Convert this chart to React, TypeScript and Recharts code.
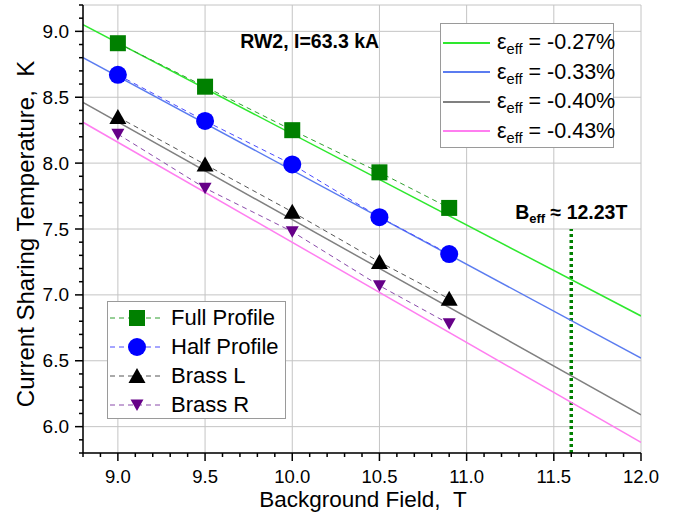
import React from 'react';
import { ComposedChart, Line, XAxis, YAxis, CartesianGrid, ReferenceLine, ReferenceDot } from 'recharts';

const FONT = '"Liberation Sans", Arial, sans-serif';

// measured points (background field in T, current sharing temperature in K)
const fieldT = [9.0, 9.5, 10.0, 10.5, 10.9];
const fullProfile = [8.91, 8.58, 8.25, 7.93, 7.66];
const halfProfile = [8.67, 8.32, 7.99, 7.59, 7.31];
const brassL = [8.35, 7.99, 7.63, 7.25, 6.97];
const brassR = [8.22, 7.81, 7.48, 7.07, 6.78];

// fitted lines, evaluated at the two ends of the field range
const fitField = [8.8, 12.0];
const fitStrain = ['-0.27%', '-0.33%', '-0.40%', '-0.43%'];
const fitAtLow = [9.05, 8.80, 8.46, 8.31];
const fitAtHigh = [6.84, 6.52, 6.09, 5.88];
const fitColors = ['#2ee82e', '#5b7cf0', '#808080', '#ff7ef0'];

const xMajor = [9.0, 9.5, 10.0, 10.5, 11.0, 11.5, 12.0];
const yMajor = [6.0, 6.5, 7.0, 7.5, 8.0, 8.5, 9.0];
const xAll = Array.from({ length: 33 }, (_, i) => +(8.8 + i * 0.1).toFixed(1));
const yAll = Array.from({ length: 35 }, (_, i) => +(5.8 + i * 0.1).toFixed(1));

const bEff = 11.6;
const bEffTop = 7.5;

type Kind = 'square' | 'circle' | 'up' | 'down';

const series: { name: string; values: number[]; kind: Kind; fill: string; line: string }[] = [
  { name: 'Full Profile', values: fullProfile, kind: 'square', fill: '#008000', line: '#2f9f2f' },
  { name: 'Half Profile', values: halfProfile, kind: 'circle', fill: '#0000ff', line: '#4b4bff' },
  { name: 'Brass L', values: brassL, kind: 'up', fill: '#000000', line: '#555555' },
  { name: 'Brass R', values: brassR, kind: 'down', fill: '#660088', line: '#8a4aaa' },
];

const isMajor = (v: number) => Math.abs(v * 2 - Math.round(v * 2)) < 1e-6;

function Marker({ kind, cx, cy, fill }: { kind: Kind; cx: number; cy: number; fill: string }) {
  if (kind === 'square') return <rect x={cx - 8} y={cy - 8} width={16} height={16} fill={fill} />;
  if (kind === 'circle') return <circle cx={cx} cy={cy} r={9} fill={fill} />;
  if (kind === 'up') return <polygon points={`${cx - 8.5},${cy + 7} ${cx + 8.5},${cy + 7} ${cx},${cy - 8}`} fill={fill} />;
  return <polygon points={`${cx - 6.5},${cy - 5.5} ${cx + 6.5},${cy - 5.5} ${cx},${cy + 6}`} fill={fill} />;
}

const BottomTick = (p: any) => {
  const v = p.payload.value;
  const major = isMajor(v);
  return (
    <g>
      <line x1={p.x} x2={p.x} y1={p.y} y2={p.y + (major ? 8 : 4)} stroke="#000" strokeWidth={1.5} />
      {major && (
        <text x={p.x} y={p.y + 23} textAnchor="middle" dominantBaseline="central" fontSize={18.5} fontFamily={FONT} fill="#000">
          {v.toFixed(1)}
        </text>
      )}
    </g>
  );
};

const LeftTick = (p: any) => {
  const v = p.payload.value;
  const major = isMajor(v);
  return (
    <g>
      <line x1={p.x} x2={p.x - (major ? 8 : 4)} y1={p.y} y2={p.y} stroke="#000" strokeWidth={1.5} />
      {major && (
        <text x={p.x - 14} y={p.y} textAnchor="end" dominantBaseline="central" fontSize={19} fontFamily={FONT} fill="#000">
          {v.toFixed(1)}
        </text>
      )}
    </g>
  );
};

const TopTick = (p: any) => (
  <line x1={p.x} x2={p.x} y1={p.y} y2={p.y + (isMajor(p.payload.value) ? 8 : 4)} stroke="#000" strokeWidth={1.5} />
);

const RightTick = (p: any) => (
  <line x1={p.x} x2={p.x - (isMajor(p.payload.value) ? 8 : 4)} y1={p.y} y2={p.y} stroke="#000" strokeWidth={1.5} />
);

const Sub = ({ children }: { children: React.ReactNode }) => (
  <span style={{ fontSize: '0.68em', position: 'relative', top: '0.35em' }}>{children}</span>
);

export default function App() {
  const fits = fitStrain.map((s, i) => ({
    name: s,
    color: fitColors[i],
    data: [
      { x: fitField[0], y: fitAtLow[i] },
      { x: fitField[1], y: fitAtHigh[i] },
    ],
  }));

  return (
    <div style={{ position: 'absolute', left: 0, top: 0, width: 678, height: 516, background: '#fff', fontFamily: FONT }}>
      <ComposedChart width={678} height={516} margin={{ top: 5, right: 37, bottom: 0, left: 0 }}>
        <XAxis xAxisId="grid" type="number" dataKey="x" domain={[8.8, 12]} ticks={xMajor} hide allowDataOverflow />
        <YAxis yAxisId="grid" type="number" domain={[5.8, 9.2]} ticks={yMajor} hide allowDataOverflow />
        <CartesianGrid xAxisId="grid" yAxisId="grid" stroke="#c4c4c4" strokeWidth={1} />

        <XAxis
          type="number"
          dataKey="x"
          domain={[8.8, 12]}
          ticks={xAll}
          interval={0}
          height={63}
          allowDataOverflow
          tickSize={0}
          tickMargin={0}
          tick={BottomTick}
          axisLine={{ stroke: '#000', strokeWidth: 1.5 }}
          label={{
            content: (lp: any) => (
              <text x={lp.viewBox.x + lp.viewBox.width / 2 + 1} y={lp.viewBox.y + 54} textAnchor="middle" fontSize={22.5} fontFamily={FONT} fill="#000">
                Background Field,{'\u00a0\u00a0'}T
              </text>
            ),
          }}
        />
        <YAxis
          type="number"
          domain={[5.8, 9.2]}
          ticks={yAll}
          interval={0}
          width={83}
          allowDataOverflow
          tickSize={0}
          tickMargin={0}
          tick={LeftTick}
          axisLine={{ stroke: '#000', strokeWidth: 1.5 }}
          label={{
            content: (lp: any) => {
              const cx = lp.viewBox.x + 25;
              const cy = lp.viewBox.y + lp.viewBox.height / 2 + 5;
              return (
                <text x={cx} y={cy} transform={`rotate(-90 ${cx} ${cy})`} textAnchor="middle" dominantBaseline="central" fontSize={24} fontFamily={FONT} fill="#000">
                  Current Sharing Temperature,{'\u00a0\u00a0'}K
                </text>
              );
            },
          }}
        />
        <XAxis
          xAxisId="top"
          orientation="top"
          type="number"
          dataKey="x"
          domain={[8.8, 12]}
          ticks={xAll}
          interval={0}
          height={0}
          allowDataOverflow
          tickSize={0}
          tickMargin={0}
          tick={TopTick}
          axisLine={{ stroke: '#000', strokeWidth: 1.5 }}
        />
        <YAxis
          yAxisId="right"
          orientation="right"
          type="number"
          domain={[5.8, 9.2]}
          ticks={yAll}
          interval={0}
          width={0}
          allowDataOverflow
          tickSize={0}
          tickMargin={0}
          tick={RightTick}
          axisLine={{ stroke: '#000', strokeWidth: 1.5 }}
        />

        <ReferenceLine
          segment={[{ x: bEff, y: 5.8 }, { x: bEff, y: bEffTop }]}
          stroke="#008000"
          strokeWidth={3.5}
          strokeDasharray="3 3"
        />

        {fits.map(f => (
          <Line
            key={f.name}
            data={f.data}
            dataKey="y"
            type="linear"
            stroke={f.color}
            strokeWidth={1.5}
            dot={false}
            activeDot={false}
            isAnimationActive={false}
          />
        ))}

        {series.map(s => (
          <Line
            key={s.name}
            data={fieldT.map((x, i) => ({ x, y: s.values[i] }))}
            dataKey="y"
            type="linear"
            stroke={s.line}
            strokeWidth={1}
            strokeDasharray="5 4"
            activeDot={false}
            isAnimationActive={false}
            dot={(p: any) => <Marker key={`${s.name}-${p.index}`} kind={s.kind} cx={p.cx} cy={p.cy} fill={s.fill} />}
          />
        ))}

        <ReferenceDot
          x={10.1}
          y={8.93}
          r={0}
          fill="none"
          stroke="none"
          label={{
            content: (lp: any) => (
              <text x={lp.viewBox.x} y={lp.viewBox.y} textAnchor="middle" dominantBaseline="central" fontSize={19.5} fontWeight="bold" fontFamily={FONT} fill="#000">
                RW2, I=63.3 kA
              </text>
            ),
          }}
        />
        <ReferenceDot
          x={bEff}
          y={7.63}
          r={0}
          fill="none"
          stroke="none"
          label={{
            content: (lp: any) => (
              <text x={lp.viewBox.x} y={lp.viewBox.y} textAnchor="middle" dominantBaseline="central" fontSize={19.5} fontWeight="bold" fontFamily={FONT} fill="#000">
                B<tspan fontSize={13} dy={6}>eff</tspan>
                <tspan dy={-6}> ≈ 12.23T</tspan>
              </text>
            ),
          }}
        />
      </ComposedChart>

      {/* fit legend */}
      <div style={{ position: 'absolute', left: 440, top: 23, width: 174, height: 125, border: '1.5px solid #9a9a9a', background: '#fff', boxSizing: 'border-box' }}>
        {fits.map((f, i) => (
          <div key={f.name} style={{ position: 'absolute', left: 2, top: 18.5 + i * 29.5 - 14, height: 28, display: 'flex', alignItems: 'center' }}>
            <div style={{ width: 47, height: 0, borderTop: `2px solid ${f.color}` }} />
            <span style={{ marginLeft: 7, fontSize: 21.5, whiteSpace: 'nowrap', color: '#000' }}>
              ε<Sub>eff</Sub> = {f.name}
            </span>
          </div>
        ))}
      </div>

      {/* data legend */}
      <div style={{ position: 'absolute', left: 107, top: 301, width: 179, height: 118, border: '1.5px solid #9a9a9a', background: '#fff', boxSizing: 'border-box' }}>
        {series.map((s, i) => (
          <div key={s.name} style={{ position: 'absolute', left: 2, top: 16 + i * 29 - 14, height: 28, display: 'flex', alignItems: 'center' }}>
            <svg width={52} height={28}>
              <line x1={0} x2={52} y1={14} y2={14} stroke={s.line} strokeWidth={1} strokeDasharray="5 4" />
              <Marker kind={s.kind} cx={27} cy={14} fill={s.fill} />
            </svg>
            <span style={{ marginLeft: 9, fontSize: 22, whiteSpace: 'nowrap', color: '#000' }}>{s.name}</span>
          </div>
        ))}
      </div>
    </div>
  );
}
